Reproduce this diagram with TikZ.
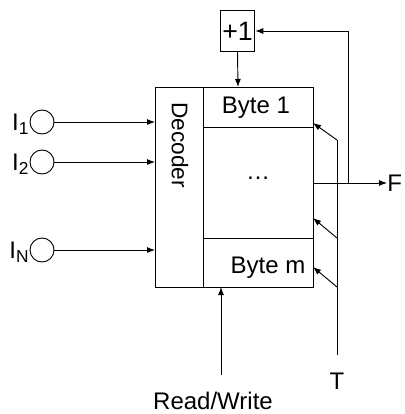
\documentclass[tikz,border=0pt]{standalone}
\usepackage{fontspec}
\setmainfont{Liberation Sans}
\usetikzlibrary{arrows.meta}
\begin{document}
\begin{tikzpicture}[x=0.75pt,y=-0.75pt,
  line width=0.7pt,
  arr/.style={-{Latex[length=6pt,width=4.5pt]}},
  lbl/.style={font=\fontsize{18}{19}\selectfont, inner sep=0pt},
  inp/.style={draw, circle, minimum size=18pt, inner sep=0pt}]
\useasboundingbox (0,0) rectangle (404,414);
% +1 box
\node[draw, minimum width=26pt, minimum height=31pt, inner sep=0pt, font=\fontsize{20}{21}\selectfont] (inc) at (237.5,31) {+1};
% main box
\draw (155,87) rectangle (313,287);
\draw (203,87) -- (203,287);
\draw (203,127) -- (313,127);
\draw (203,238) -- (313,238);
\coordinate (top) at (238,87);
\coordinate (b1) at (313,123);
\coordinate (bmid) at (313,218);
\coordinate (bm) at (313,267);
\coordinate (out) at (313,183);
\coordinate (rw) at (221,287);
\node[lbl] (byte1) at (256,108) {Byte 1};
\node[lbl] (dots) at (258,178) {\dots};
\node[lbl] (bytem) at (268,268) {Byte m};
\node[lbl, rotate=-90, font=\fontsize{17}{18}\selectfont] (dec) at (180,145) {Decoder};
% +1 arrows
\draw[arr] (inc.south) -- (top);
\coordinate (fbt) at (348,31);
\coordinate (fbb) at (348,183);
\draw[arr] (fbb) -- (fbt) -- (inc.east);
\node[lbl, anchor=west] (F) at (387,183) {F};
\draw[arr] (out) -- (F.west);
% T
\node[lbl] (T) at (337,381) {T};
\coordinate (tt) at (337,140);
\coordinate (t2) at (337,238);
\coordinate (t3) at (337,287);
\coordinate (tb) at (337,355);
\draw (tb) -- (tt);
\draw[arr] (tt) -- (b1);
\draw[arr] (t2) -- (bmid);
\draw[arr] (t3) -- (bm);
% Read/Write
\node[lbl] (RW) at (213,401) {Read/Write};
\coordinate (rwb) at (221,375);
\draw[arr] (rwb) -- (rw);
% inputs
\node[inp] (c1) at (42,122) {};
\node[inp] (c2) at (42,162) {};
\node[inp] (cn) at (42,250) {};
\node[lbl, anchor=east] (l1) at (29,124) {I\raisebox{-0.35ex}{\fontsize{13}{14}\selectfont 1}};
\node[lbl, anchor=east] (l2) at (29,164) {I\raisebox{-0.35ex}{\fontsize{13}{14}\selectfont 2}};
\node[lbl, anchor=east] (ln) at (29,252) {I\raisebox{-0.35ex}{\fontsize{13}{14}\selectfont N}};
\draw[arr] (c1.east) -- (155,122);
\draw[arr] (c2.east) -- (155,162);
\draw[arr] (cn.east) -- (155,250);
\end{tikzpicture}
\end{document}
